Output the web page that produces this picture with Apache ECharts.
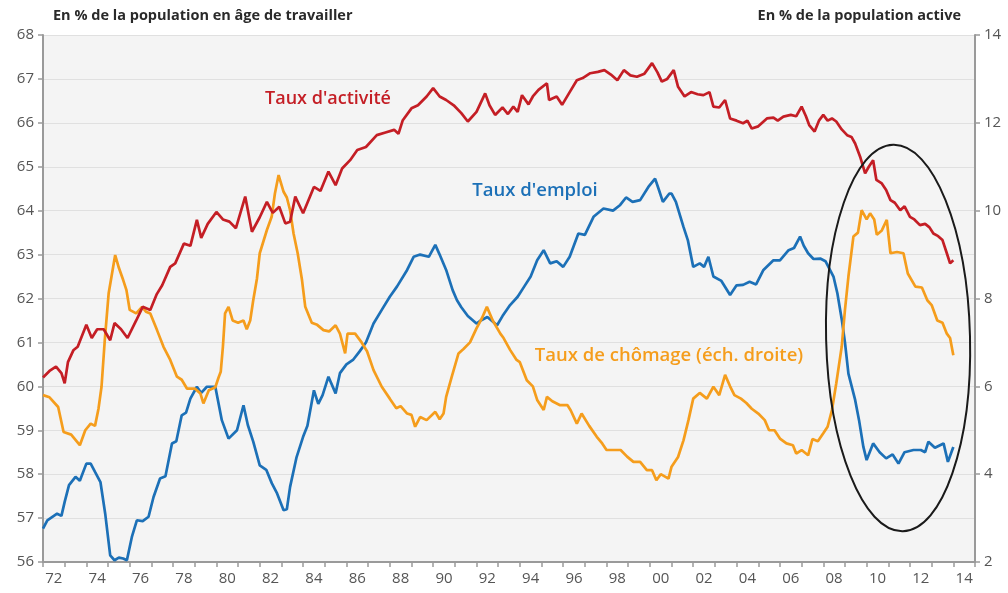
<!DOCTYPE html>
<html><head><meta charset="utf-8">
<script src="https://cdn.jsdelivr.net/npm/echarts@6/dist/echarts.min.js"></script>
<style>html,body{margin:0;padding:0;background:#fff;}#c{width:1008px;height:593px;}</style>
</head><body><div id="c"></div>
<script>
const yearLabels = ['72','73','74','75','76','77','78','79','80','81','82','83','84','85','86','87','88','89','90','91','92','93','94','95','96','97','98','99','00','01','02','03','04','05','06','07','08','09','10','11','12','13','14'];
const leftTicks = [56, 68, 1];
const rightTicks = [2, 14, 2];

// Taux d'activité (% pop. en âge de travailler) [année, valeur]
const activite = [
[1972.0,60.2],[1972.3,60.35],[1972.6,60.45],[1972.85,60.3],[1973.0,60.07],[1973.15,60.55],[1973.4,60.82],[1973.6,60.9],
[1974.0,61.4],[1974.25,61.1],[1974.5,61.3],[1974.8,61.3],[1975.1,61.05],[1975.3,61.44],[1975.6,61.3],[1975.9,61.1],
[1976.3,61.5],[1976.6,61.81],[1976.95,61.74],[1977.25,62.1],[1977.5,62.3],[1977.87,62.72],[1978.1,62.8],[1978.5,63.25],
[1978.8,63.2],[1979.1,63.79],[1979.3,63.38],[1979.6,63.7],[1980.0,63.97],[1980.3,63.8],[1980.6,63.75],[1980.9,63.6],
[1981.33,64.32],[1981.64,63.52],[1982.0,63.85],[1982.33,64.2],[1982.6,63.95],[1982.9,64.09],[1983.18,63.71],[1983.4,63.75],
[1983.64,64.32],[1984.0,63.94],[1984.5,64.54],[1984.8,64.45],[1985.17,64.89],[1985.5,64.58],[1985.8,64.96],[1986.17,65.15],
[1986.5,65.38],[1986.9,65.45],[1987.4,65.72],[1987.8,65.78],[1988.2,65.84],[1988.4,65.75],[1988.6,66.06],[1989.0,66.33],
[1989.3,66.4],[1989.7,66.6],[1990.0,66.79],[1990.3,66.6],[1990.6,66.52],[1990.95,66.4],[1991.3,66.22],[1991.6,66.03],
[1992.0,66.25],[1992.4,66.67],[1992.6,66.4],[1992.86,66.18],[1993.2,66.35],[1993.45,66.2],[1993.7,66.37],[1993.9,66.25],
[1994.1,66.63],[1994.4,66.42],[1994.6,66.6],[1994.86,66.75],[1995.25,66.9],[1995.35,66.52],[1995.7,66.6],[1995.95,66.41],
[1996.3,66.7],[1996.63,66.97],[1996.9,67.02],[1997.25,67.13],[1997.6,67.16],[1997.9,67.2],[1998.2,67.1],[1998.5,66.97],
[1998.8,67.2],[1999.1,67.08],[1999.4,67.05],[1999.75,67.12],[2000.1,67.36],[2000.35,67.15],[2000.55,66.94],[2000.8,67.0],
[2001.1,67.2],[2001.3,66.82],[2001.6,66.6],[2001.9,66.7],[2002.2,66.65],[2002.47,66.63],[2002.75,66.7],[2002.93,66.37],
[2003.2,66.35],[2003.47,66.52],[2003.7,66.1],[2004.0,66.05],[2004.3,65.99],[2004.5,66.05],[2004.7,65.87],[2005.0,65.92],
[2005.4,66.1],[2005.7,66.12],[2005.9,66.05],[2006.16,66.14],[2006.5,66.18],[2006.75,66.15],[2007.0,66.37],[2007.2,66.15],
[2007.35,65.95],[2007.6,65.8],[2007.8,66.05],[2008.0,66.18],[2008.2,66.05],[2008.4,66.1],[2008.6,66.03],[2008.85,65.85],
[2009.1,65.72],[2009.3,65.68],[2009.47,65.53],[2009.7,65.23],[2009.93,64.85],[2010.1,65.0],[2010.3,65.15],[2010.45,64.7],
[2010.7,64.62],[2010.9,64.47],[2011.1,64.24],[2011.3,64.18],[2011.55,64.01],[2011.75,64.1],[2012.0,63.86],[2012.2,63.8],
[2012.46,63.67],[2012.7,63.7],[2012.9,63.62],[2013.08,63.48],[2013.3,63.42],[2013.5,63.33],[2013.7,63.03],[2013.85,62.8],[2014.0,62.87]
];

// Taux d'emploi (% pop. en âge de travailler)
const emploi = [
[1972.0,56.76],[1972.2,56.95],[1972.65,57.1],[1972.85,57.05],[1973.0,57.37],[1973.2,57.75],[1973.5,57.94],[1973.7,57.85],
[1974.0,58.24],[1974.2,58.24],[1974.4,58.05],[1974.65,57.82],[1974.87,57.1],[1975.1,56.15],[1975.3,56.04],[1975.5,56.1],
[1975.7,56.08],[1975.87,56.04],[1976.1,56.57],[1976.33,56.95],[1976.6,56.93],[1976.87,57.03],[1977.1,57.48],[1977.4,57.9],
[1977.65,57.95],[1977.95,58.7],[1978.15,58.75],[1978.4,59.34],[1978.6,59.4],[1978.8,59.72],[1979.1,59.99],[1979.3,59.85],
[1979.56,59.99],[1979.95,59.99],[1980.25,59.23],[1980.56,58.81],[1980.95,59.0],[1981.25,59.57],[1981.45,59.12],[1981.7,58.74],
[1982.0,58.2],[1982.3,58.1],[1982.56,57.79],[1982.8,57.56],[1983.1,57.18],[1983.25,57.2],[1983.4,57.71],[1983.7,58.39],
[1984.0,58.85],[1984.2,59.1],[1984.5,59.91],[1984.7,59.6],[1984.9,59.8],[1985.17,60.22],[1985.5,59.84],[1985.7,60.3],
[1986.0,60.5],[1986.3,60.6],[1986.6,60.79],[1986.9,61.0],[1987.25,61.43],[1987.63,61.74],[1988.0,62.04],[1988.33,62.27],
[1988.8,62.65],[1989.1,62.95],[1989.4,63.0],[1989.8,62.95],[1990.1,63.22],[1990.3,63.0],[1990.6,62.65],[1990.9,62.19],
[1991.1,61.96],[1991.3,61.8],[1991.6,61.6],[1992.0,61.43],[1992.2,61.5],[1992.5,61.58],[1992.95,61.39],[1993.2,61.6],
[1993.55,61.85],[1993.9,62.04],[1994.2,62.27],[1994.5,62.5],[1994.8,62.87],[1995.1,63.1],[1995.4,62.8],[1995.7,62.85],
[1996.0,62.72],[1996.3,62.95],[1996.7,63.48],[1997.0,63.45],[1997.4,63.86],[1997.86,64.05],[1998.3,64.0],[1998.63,64.13],
[1998.9,64.3],[1999.2,64.2],[1999.55,64.24],[1999.93,64.54],[2000.24,64.73],[2000.4,64.5],[2000.6,64.2],[2000.9,64.39],
[2001.0,64.39],[2001.2,64.2],[2001.55,63.63],[2001.75,63.33],[2002.0,62.72],[2002.3,62.8],[2002.5,62.72],[2002.7,62.95],
[2002.93,62.5],[2003.3,62.4],[2003.7,62.08],[2004.0,62.3],[2004.3,62.31],[2004.6,62.38],[2004.9,62.32],[2005.24,62.65],
[2005.7,62.87],[2006.0,62.87],[2006.4,63.1],[2006.65,63.15],[2006.93,63.41],[2007.1,63.2],[2007.3,63.03],[2007.55,62.9],
[2007.86,62.91],[2008.1,62.85],[2008.47,62.5],[2008.65,62.12],[2008.86,61.5],[2009.0,61.0],[2009.16,60.29],[2009.47,59.69],
[2009.65,59.23],[2009.85,58.62],[2010.0,58.32],[2010.3,58.7],[2010.6,58.5],[2010.9,58.36],[2011.2,58.45],[2011.47,58.24],
[2011.75,58.5],[2012.16,58.55],[2012.5,58.55],[2012.7,58.5],[2012.85,58.74],[2013.15,58.6],[2013.55,58.7],[2013.75,58.28],[2014.0,58.62]
];

// Taux de chômage (% pop. active, échelle droite)
const chomage = [
[1972.0,5.8],[1972.3,5.75],[1972.7,5.53],[1972.95,4.96],[1973.3,4.9],[1973.7,4.66],[1973.95,5.0],[1974.2,5.15],
[1974.4,5.1],[1974.56,5.49],[1974.7,5.99],[1974.85,7.05],[1975.03,8.12],[1975.33,8.99],[1975.5,8.7],[1975.7,8.42],
[1975.85,8.19],[1976.0,7.74],[1976.3,7.66],[1976.57,7.81],[1976.75,7.7],[1976.95,7.66],[1977.26,7.28],[1977.56,6.9],
[1977.87,6.6],[1978.18,6.22],[1978.4,6.15],[1978.64,5.95],[1979.0,5.95],[1979.26,5.84],[1979.4,5.61],[1979.65,5.91],
[1979.95,5.98],[1980.1,6.2],[1980.2,6.33],[1980.3,6.9],[1980.4,7.66],[1980.56,7.81],[1980.75,7.5],[1981.0,7.45],
[1981.25,7.5],[1981.4,7.3],[1981.56,7.5],[1981.7,7.96],[1981.87,8.45],[1982.0,9.03],[1982.33,9.56],[1982.55,9.86],
[1982.7,10.39],[1982.87,10.81],[1983.1,10.43],[1983.25,10.3],[1983.4,10.01],[1983.56,9.48],[1983.75,9.03],[1983.95,8.42],
[1984.1,7.81],[1984.4,7.45],[1984.65,7.4],[1984.94,7.28],[1985.2,7.25],[1985.5,7.39],[1985.7,7.2],[1985.94,6.75],
[1986.05,7.2],[1986.4,7.2],[1986.7,7.0],[1986.95,6.8],[1987.25,6.37],[1987.63,5.99],[1988.0,5.72],[1988.3,5.5],
[1988.5,5.55],[1988.8,5.38],[1989.0,5.35],[1989.17,5.08],[1989.4,5.3],[1989.7,5.23],[1990.1,5.42],[1990.3,5.25],
[1990.48,5.38],[1990.6,5.76],[1990.86,6.22],[1991.17,6.75],[1991.4,6.85],[1991.7,7.0],[1992.0,7.32],[1992.25,7.55],
[1992.48,7.81],[1992.75,7.5],[1993.1,7.2],[1993.25,7.1],[1993.55,6.83],[1993.85,6.6],[1994.0,6.55],[1994.32,6.14],
[1994.6,6.0],[1994.8,5.69],[1995.1,5.46],[1995.25,5.76],[1995.5,5.66],[1995.86,5.57],[1996.2,5.57],[1996.35,5.45],
[1996.63,5.15],[1996.85,5.38],[1997.2,5.1],[1997.55,4.85],[1997.8,4.7],[1998.0,4.55],[1998.35,4.55],[1998.65,4.55],
[1998.95,4.4],[1999.24,4.28],[1999.55,4.28],[1999.86,4.09],[2000.1,4.09],[2000.3,3.86],[2000.5,4.0],[2000.86,3.9],
[2001.0,4.17],[2001.3,4.39],[2001.55,4.77],[2001.78,5.23],[2002.0,5.72],[2002.3,5.85],[2002.63,5.72],[2002.93,5.99],
[2003.2,5.8],[2003.47,6.26],[2003.7,6.0],[2003.9,5.8],[2004.2,5.72],[2004.45,5.62],[2004.7,5.49],[2005.0,5.38],
[2005.3,5.23],[2005.5,5.0],[2005.75,5.0],[2006.0,4.81],[2006.3,4.7],[2006.6,4.66],[2006.75,4.47],[2007.0,4.55],
[2007.3,4.43],[2007.5,4.8],[2007.75,4.75],[2008.0,4.93],[2008.2,5.08],[2008.4,5.46],[2008.6,6.07],[2008.85,6.9],
[2009.0,7.74],[2009.16,8.5],[2009.39,9.41],[2009.6,9.5],[2009.77,10.01],[2010.0,9.8],[2010.16,9.94],[2010.35,9.8],
[2010.47,9.45],[2010.7,9.55],[2010.93,9.79],[2011.1,9.03],[2011.4,9.06],[2011.7,9.03],[2011.9,8.57],[2012.25,8.27],
[2012.55,8.25],[2012.8,7.96],[2013.0,7.85],[2013.26,7.5],[2013.5,7.45],[2013.7,7.2],[2013.85,7.1],[2014.0,6.71]
];

// Annotation ellipse (data coords on left axis): centre [année, valeur], rayons [années, points]
const ellipseCenter = [2011.45, 61.1];
const ellipseRadii = [3.32, 4.4];

const RED = '#c41e25', BLUE = '#1c70b7', ORANGE = '#f59d1c';
const FONT = 'Open Sans';

const chart = echarts.init(document.getElementById('c'), null, {renderer: 'canvas'});
const axisGray = '#9a9a9a';
chart.setOption({
  animation: false,
  textStyle: {fontFamily: FONT},
  grid: {left: 43, right: 33, top: 35, bottom: 31, show: true, backgroundColor: '#f4f4f4', borderWidth: 0},
  xAxis: [
    {type: 'category', data: yearLabels, boundaryGap: true, position: 'bottom',
     axisLine: {lineStyle: {color: axisGray, width: 2}},
     axisTick: {show: true, interval: 0, length: 5, lineStyle: {color: axisGray, width: 1.5}},
     axisLabel: {interval: 1, color: '#555', fontSize: 15, margin: 9, fontFamily: FONT},
     splitLine: {show: false}},
    {type: 'value', min: 1972, max: 2015, show: false}
  ],
  yAxis: [
    {type: 'value', min: leftTicks[0], max: leftTicks[1], interval: leftTicks[2], position: 'left',
     axisLine: {show: true, lineStyle: {color: axisGray, width: 2}},
     axisTick: {show: true, length: 5, lineStyle: {color: axisGray, width: 1.5}},
     axisLabel: {color: '#555', fontSize: 15, margin: 9, fontFamily: FONT},
     splitLine: {show: true, lineStyle: {color: '#e0e0e0', width: 1}}},
    {type: 'value', min: rightTicks[0], max: rightTicks[1], interval: rightTicks[2], position: 'right',
     axisLine: {show: true, lineStyle: {color: axisGray, width: 2}},
     axisTick: {show: true, length: 5, lineStyle: {color: axisGray, width: 1.5}},
     axisLabel: {color: '#555', fontSize: 15, margin: 9, fontFamily: FONT},
     splitLine: {show: false}}
  ],
  series: [
    {name: "Taux d'emploi", type: 'line', xAxisIndex: 1, yAxisIndex: 0, data: emploi, showSymbol: false,
     lineStyle: {color: BLUE, width: 2.7}, itemStyle: {color: BLUE}},
    {name: 'Taux de chômage', type: 'line', xAxisIndex: 1, yAxisIndex: 1, data: chomage, showSymbol: false,
     lineStyle: {color: ORANGE, width: 2.7}, itemStyle: {color: ORANGE}},
    {name: "Taux d'activité", type: 'line', xAxisIndex: 1, yAxisIndex: 0, data: activite, showSymbol: false,
     lineStyle: {color: RED, width: 2.7}, itemStyle: {color: RED}}
  ]
});

const c = chart.convertToPixel({seriesIndex: 2}, ellipseCenter);
const e = chart.convertToPixel({seriesIndex: 2}, [ellipseCenter[0] + ellipseRadii[0], ellipseCenter[1] + ellipseRadii[1]]);

chart.setOption({
  graphic: [
    {type: 'text', left: 53, top: 8, style: {text: 'En % de la population en âge de travailler', font: 'bold 14.5px "' + FONT + '"', fill: '#2a2a2a'}},
    {type: 'text', right: 47, top: 8, style: {text: 'En % de la population active', font: 'bold 14.5px "' + FONT + '"', fill: '#2a2a2a'}},
    {type: 'text', x: 328, y: 99, style: {text: "Taux d'activité", font: '600 18px "' + FONT + '"', fill: RED, align: 'center', verticalAlign: 'middle'}},
    {type: 'text', x: 535, y: 191, style: {text: "Taux d'emploi", font: '600 18.5px "' + FONT + '"', fill: BLUE, align: 'center', verticalAlign: 'middle'}},
    {type: 'text', x: 669, y: 356, style: {text: 'Taux de chômage (éch. droite)', font: '600 18.5px "' + FONT + '"', fill: ORANGE, align: 'center', verticalAlign: 'middle'}},
    {type: 'ellipse', shape: {cx: c[0], cy: c[1], rx: e[0] - c[0], ry: c[1] - e[1]},
     originX: c[0], originY: c[1], rotation: 0.025,
     style: {fill: 'none', stroke: '#1a1a1a', lineWidth: 2}, z: 100}
  ]
});
</script></body></html>
